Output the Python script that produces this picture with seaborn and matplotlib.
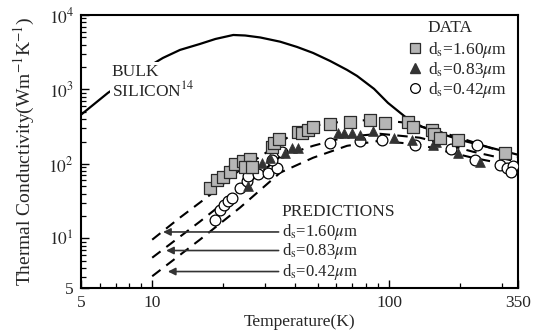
import matplotlib
matplotlib.use("Agg")
import matplotlib.pyplot as plt
from matplotlib.lines import Line2D
from matplotlib.ticker import FixedLocator, FixedFormatter, LogLocator, NullFormatter
import seaborn as sns

# --- data (T in K, k in W m^-1 K^-1) ---
bulk_T = [5.0, 6.5, 8.5, 11.1, 13.1, 15.9, 18.5, 22.0, 24.7, 28.6, 34.7, 40.9,
          47.8, 56.4, 66.5, 73.3, 86.5, 99, 117, 138, 172, 199, 259, 350]
bulk_K = [457, 900, 1600, 2653, 3398, 4085, 4770, 5396, 5310, 4995, 4385, 3726,
          3096, 2417, 1832, 1521, 1019, 661, 430, 315, 246, 211, 170, 133]

pred_T_160 = [10, 13.1, 17.6, 23.5, 29.4, 38.2, 47.8, 66.5, 91.6, 119, 149, 199, 259, 350]
pred_K_160 = [9.6, 19.0, 38.6, 83.6, 133, 239, 325, 379, 391, 356, 296, 225, 170, 125]

pred_T_083 = [10, 15.9, 23.5, 34.7, 47.8, 66.5, 91.6, 135, 176, 226, 350]
pred_K_083 = [5.5, 16.8, 45.1, 125, 175, 232, 254, 225, 181, 146, 107]

pred_T_042 = [10, 15.9, 23.5, 34.7, 47.8, 66.5, 91.6, 135, 176, 226, 350]
pred_K_042 = [3.1, 9.6, 25.9, 76.2, 121, 175, 205, 181, 146, 121, 92]

sq_T = [17.6, 18.8, 19.9, 21.3, 22.4, 24.2, 25.9, 24.7, 26.4, 32.1, 32.7, 34.3,
        41.3, 42.9, 45.5, 47.8, 56.4, 68.5, 83.1, 96.2, 120, 126, 152, 155, 164,
        196, 309]
sq_K = [48, 61, 67, 79, 101, 110, 117, 92, 92, 170, 192, 218,
        270, 262, 287, 315, 346, 368, 391, 356, 368, 315, 287, 254, 225,
        211, 141]

tri_T = [25.4, 29.1, 31.5, 36.4, 39.0, 41.3, 60.9, 64.6, 69.8, 75.4, 85.6, 105,
         125, 153, 158, 196, 242]
tri_K = [51, 104, 121, 141, 165, 165, 262, 262, 262, 246, 279, 225,
         211, 181, 199, 141, 107]

circ_T = [18.4, 19.4, 20.1, 20.9, 21.8, 22.2, 23.5, 25.2, 25.4, 28.0, 30.9, 33.7,
          32.1, 35.4, 56.4, 75.4, 93.4, 129, 183, 235, 231, 294, 315, 334, 327]
circ_K = [17.9, 24.3, 28.4, 32.1, 35.2, 91.7, 48, 59.6, 69.5, 73.9, 76.2, 88.9,
          114, 146, 192, 205, 211, 181, 160, 181, 114, 97.5, 88.9, 94.6, 78.6]

size_labels = [r"d$_\mathrm{s}$=1.60$\mu$m", r"d$_\mathrm{s}$=0.83$\mu$m",
               r"d$_\mathrm{s}$=0.42$\mu$m"]

sns.set_style("ticks")
plt.rcParams["font.family"] = ["Liberation Serif", "DejaVu Serif"]
plt.rcParams["mathtext.fontset"] = "stix"

fig = plt.figure(figsize=(5.36, 3.34), dpi=100)
ax = fig.add_axes([0.151, 0.138, 0.815, 0.817])

# bulk silicon and model predictions
sns.lineplot(x=bulk_T, y=bulk_K, color="black", lw=1.6, sort=False,
             estimator=None, ax=ax, zorder=2)
for tt, kk in [(pred_T_160, pred_K_160), (pred_T_083, pred_K_083),
               (pred_T_042, pred_K_042)]:
    sns.lineplot(x=tt, y=kk, color="black", lw=1.5, linestyle=(0, (5, 3.5)),
                 sort=False, estimator=None, ax=ax, zorder=2)

# measured data
sns.scatterplot(x=circ_T, y=circ_K, marker="o", s=60, facecolor="white",
                edgecolor="black", linewidth=0.9, ax=ax, zorder=3)
sns.scatterplot(x=tri_T, y=tri_K, marker="^", s=50, color="#333333",
                edgecolor="#333333", linewidth=0.5, ax=ax, zorder=4)
sns.scatterplot(x=sq_T, y=sq_K, marker="s", s=64, color="#b5b5b5",
                edgecolor="#2a2a2a", linewidth=0.9, ax=ax, zorder=5)

ax.set_xscale("log")
ax.set_yscale("log")
ax.set_xlim(5, 350)
ax.set_ylim(2.16, 1e4)

ax.xaxis.set_major_locator(FixedLocator([5, 10, 100, 350]))
ax.xaxis.set_major_formatter(FixedFormatter(["5", "10", "100", "350"]))
ax.xaxis.set_minor_locator(LogLocator(base=10, subs=range(2, 10)))
ax.xaxis.set_minor_formatter(NullFormatter())
ax.yaxis.set_major_locator(FixedLocator([2.16, 10, 100, 1000, 10000]))
ax.yaxis.set_major_formatter(FixedFormatter(["5", "$10^1$", "$10^2$", "$10^3$", "$10^4$"]))
ax.yaxis.set_minor_locator(LogLocator(base=10, subs=range(2, 10)))
ax.yaxis.set_minor_formatter(NullFormatter())

ax.tick_params(which="both", direction="in", top=False, right=False,
               labelsize=12.5, color="black")
ax.tick_params(which="major", length=6, width=1.0, pad=5)
ax.tick_params(which="minor", length=3.5, width=0.9)
for sp in ax.spines.values():
    sp.set_linewidth(1.5)
    sp.set_color("black")

ax.set_xlabel("Temperature(K)", fontsize=12.5, labelpad=2)
ax.set_ylabel(r"Thermal Conductivity(Wm$^{-1}$K$^{-1}$)", fontsize=14, labelpad=8)

ax.text(0.071, 0.79, "BULK", transform=ax.transAxes, fontsize=12.5,
        va="center", ha="left", zorder=6,
        bbox=dict(facecolor="white", edgecolor="none", pad=1.5))
ax.text(0.071, 0.725, r"SILICON$^{14}$", transform=ax.transAxes, fontsize=12.5,
        va="center", ha="left", zorder=6,
        bbox=dict(facecolor="white", edgecolor="none", pad=1.5))

# data legend
ax.text(0.794, 0.952, "DATA", transform=ax.transAxes, fontsize=12.5,
        va="center", ha="left")
handles = [
    Line2D([], [], ls="none", marker="s", ms=6.5, mfc="#b5b5b5", mec="#2a2a2a", mew=0.9),
    Line2D([], [], ls="none", marker="^", ms=6.5, mfc="#333333", mec="#333333"),
    Line2D([], [], ls="none", marker="o", ms=7, mfc="white", mec="black", mew=0.9),
]
leg = ax.legend(handles, size_labels, loc="upper left",
                bbox_to_anchor=(0.748, 0.91), frameon=False, fontsize=12.5,
                handlelength=0.8, handletextpad=0.35, labelspacing=0.0,
                borderpad=0.0, borderaxespad=0.0)

# predictions labels with arrows
ax.text(0.46, 0.278, "PREDICTIONS", transform=ax.transAxes, fontsize=12.5,
        va="center", ha="left")
for lab, ty, tx in zip(size_labels, [0.205, 0.137, 0.060], [0.188, 0.195, 0.199]):
    ax.annotate(lab, xy=(tx, ty), xytext=(0.46, ty), xycoords="axes fraction",
                textcoords="axes fraction", fontsize=12, va="center", ha="left",
                arrowprops=dict(arrowstyle="-|>", color="#333333", lw=1.2,
                                mutation_scale=11, shrinkA=0, shrinkB=0,
                                relpos=(0, 0.5)))

fig.savefig("out.png", dpi=100)
